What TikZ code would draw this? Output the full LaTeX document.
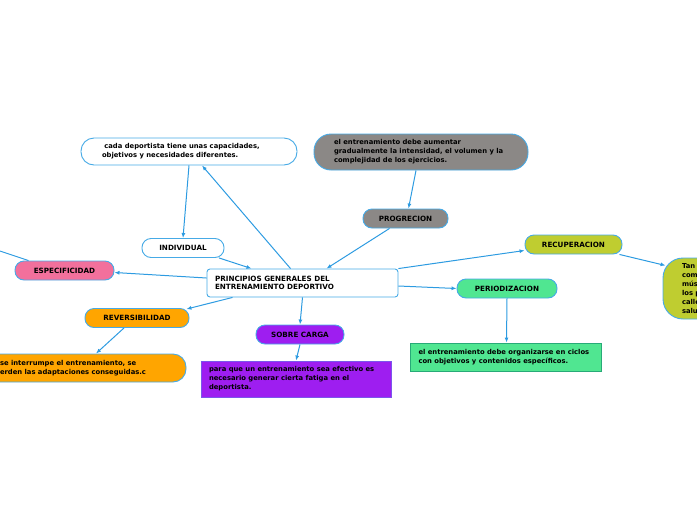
\documentclass[tikz,border=0pt]{standalone}
\usepackage{fontspec}
\setmainfont{DejaVu Sans}
\usetikzlibrary{positioning, shapes, arrows.meta, calc}

\definecolor{linkblue}{RGB}{45,155,225}
\definecolor{rimblue}{RGB}{70,170,230}
\definecolor{pinkfill}{RGB}{242,112,156}
\definecolor{orangefill}{RGB}{255,165,0}
\definecolor{purplefill}{RGB}{158,30,240}
\definecolor{grayfill}{RGB}{139,136,134}
\definecolor{olivefill}{RGB}{191,205,48}
\definecolor{greenfill}{RGB}{80,230,145}
\definecolor{greenrim}{RGB}{40,170,120}

\tikzset{
  base/.style={draw=rimblue, line width=0.9pt, font=\fontsize{7.2}{8.7}\selectfont\bfseries,
    inner xsep=0pt, inner ysep=0pt},
  pill/.style={base, rounded corners=9pt, minimum height=19pt, align=center},
  textbox/.style={base, align=flush left, font=\fontsize{6.8}{8.9}\selectfont\bfseries},
  link/.style={draw=linkblue, line width=1pt, -{Latex[length=5pt,width=4pt]}}
}

\begin{document}
\begin{tikzpicture}[x=1pt, y=-1pt]
  \useasboundingbox (0,0) rectangle (697,520);

  \node [textbox, font=\fontsize{7.2}{8.7}\selectfont\bfseries, rounded corners=3pt, fill=white,
         minimum width=191pt, minimum height=28pt, text width=175pt] (prin) at (302.5,283)
        {PRINCIPIOS GENERALES DEL\\ENTRENAMIENTO DEPORTIVO};

  \node [textbox, rounded corners=13pt, fill=white, minimum width=216pt, minimum height=27pt,
         text width=174pt] (cada) at (189,151.5)
        {\ cada deportista tiene unas capacidades,\\objetivos y necesidades diferentes.};
  \node [pill, fill=white, minimum width=82pt] (ind) at (183,248) {INDIVIDUAL};

  \node [pill, fill=pinkfill, minimum width=99pt] (esp) at (64.5,270.5) {ESPECIFICIDAD};
  \coordinate (offl) at (-30,241);

  \node [pill, fill=orangefill, minimum width=104pt] (rev) at (137,318) {REVERSIBILIDAD};
  \node [textbox, rounded corners=13pt, fill=orangefill, minimum width=212pt, minimum height=28pt,
         text width=160pt] (revtxt) at (80,368)
        {se interrumpe el entrenamiento, se\\erden las adaptaciones conseguidas.c};

  \node [pill, fill=purplefill, minimum width=88pt] (sob) at (300,334.5) {SOBRE CARGA};
  \node [textbox, draw=purplefill!60!rimblue, fill=purplefill, minimum width=190pt, minimum height=36pt,
         text width=174pt] (sobtxt) at (296,379)
        {para que un entrenamiento sea efectivo es\\necesario generar cierta fatiga en el\\deportista.};

  \node [textbox, rounded corners=17pt, fill=grayfill, minimum width=214pt, minimum height=36pt,
         text width=174pt] (progtxt) at (421,152)
        {el entrenamiento debe aumentar\\gradualmente la intensidad, el volumen y la\\complejidad de los ejercicios.};
  \node [pill, fill=grayfill, minimum width=85pt] (prog) at (405.5,218.5) {PROGRECION};

  \node [pill, fill=olivefill, minimum width=97pt] (rec) at (573.5,244.5) {RECUPERACION};
  \node [textbox, rounded corners=20pt, fill=olivefill, minimum width=100pt, minimum height=61pt,
         text width=62pt] (rectxt) at (713,288.5)
        {Tan\\com\\mús\\los p\\calle\\salu};

  \node [pill, fill=greenfill, minimum width=100pt] (per) at (507,288.5) {PERIODIZACION};
  \node [textbox, draw=greenrim, fill=greenfill, minimum width=191pt, minimum height=28pt,
         text width=174pt] (pertxt) at (505.5,357)
        {el entrenamiento debe organizarse en ciclos\\con objetivos y contenidos específicos.};

  \draw [link] (cada.south) -- (ind.north);
  \draw [link] ([xshift=-12pt]prin.north) -- ([xshift=13pt]cada.south);
  \draw [link] ([xshift=36pt]ind.south) -- ([xshift=-51pt]prin.north);
  \draw [link] ([yshift=5pt]prin.west) -- ([yshift=-2pt]esp.east);
  \draw [draw=linkblue, line width=1pt] (offl) -- ([xshift=-36pt]esp.north);
  \draw [link] ([xshift=-70pt]prin.south) -- ([xshift=-3pt,yshift=-1pt]rev.north east);
  \draw [link] ([xshift=-13pt]rev.south) -- ([xshift=16pt]revtxt.north);
  \draw [link] (prin.south) -- (sob.north);
  \draw [link] (sob.south) -- (sobtxt.north);
  \draw [link] ([xshift=-16pt]prog.south) -- ([xshift=24pt]prin.north);
  \draw [link] ([xshift=-5pt]progtxt.south) -- ([xshift=3pt]prog.north);
  \draw [link] (prin.north east) -- ([yshift=-6pt]rec.west);
  \draw [link] ([xshift=-3pt]rec.south east) -- ([shift={(3pt,23pt)}]rectxt.west);
  \draw [link] ([yshift=-3pt]prin.east) -- (per.west);
  \draw [link] (per.south) -- ([xshift=1pt]pertxt.north);
\end{tikzpicture}
\end{document}
